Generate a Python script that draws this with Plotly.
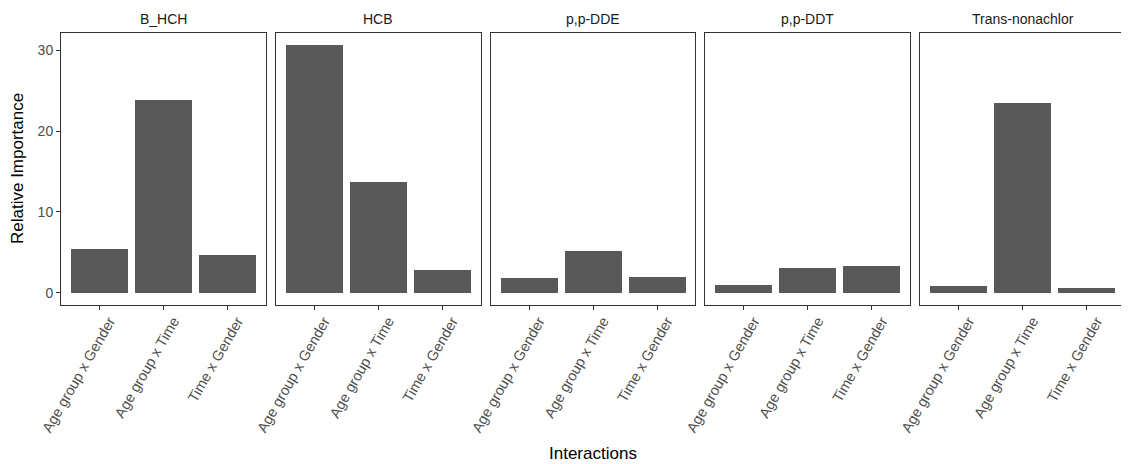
import plotly.graph_objects as go
from plotly.subplots import make_subplots

panels = ["B_HCH", "HCB", "p,p-DDE", "p,p-DDT", "Trans-nonachlor"]
interactions = ["Age group x Gender", "Age group x Time", "Time x Gender"]
b_hch = [5.4, 23.9, 4.6]
hcb = [30.6, 13.7, 2.8]
ppdde = [1.8, 5.2, 1.95]
ppddt = [1.0, 3.1, 3.3]
trans_nonachlor = [0.8, 23.5, 0.6]
values = [b_hch, hcb, ppdde, ppddt, trans_nonachlor]
y_ticks = [0, 10, 20, 30]

# page body has an 8px margin, so the figure is sized/offset to compensate
W, H = 1121, 456
ml, mr, mt, mb = 53, 4, 25, 159
fig = make_subplots(rows=1, cols=5, subplot_titles=panels,
                    horizontal_spacing=10 / (W - ml - mr), shared_yaxes=True)

for i, vals in enumerate(values):
    fig.add_trace(go.Bar(x=interactions, y=vals, width=0.9,
                         marker=dict(color="#595959", line=dict(width=0)),
                         showlegend=False), row=1, col=i + 1)
    fig.update_xaxes(row=1, col=i + 1, range=[-0.6, 2.6], showline=True, mirror=True,
                     linecolor="#333333", linewidth=1, ticks="outside", ticklen=4,
                     tickcolor="#333333", tickangle=-60, showgrid=False, zeroline=False,
                     automargin=False, ticklabelshift=10, ticklabelstandoff=-3,
                     tickfont=dict(family="Liberation Sans, Arial", size=14.5, color="#4D4D4D"))
    fig.update_yaxes(row=1, col=i + 1, range=[-1.53, 32.13], showline=True, mirror=True,
                     linecolor="#333333", linewidth=1, showgrid=False, zeroline=False,
                     tickvals=y_ticks, automargin=False,
                     ticks="outside" if i == 0 else "", ticklen=4, tickcolor="#333333",
                     showticklabels=(i == 0),
                     tickfont=dict(family="Liberation Sans, Arial", size=14, color="#4D4D4D"))

for ann in fig.layout.annotations:
    ann.font = dict(family="Liberation Sans, Arial", size=14, color="#1A1A1A")
    ann.yshift = 4

fig.add_annotation(text="Interactions", xref="paper", yref="paper", x=0.5, y=0,
                   yshift=-148, yanchor="middle", showarrow=False,
                   font=dict(family="Liberation Sans, Arial", size=17, color="black"))
fig.add_annotation(text="Relative Importance", xref="paper", yref="paper", x=0, y=0.5,
                   xshift=-44, textangle=-90, xanchor="center", showarrow=False,
                   font=dict(family="Liberation Sans, Arial", size=17, color="black"))

fig.update_layout(width=W, height=H, margin=dict(l=ml, r=mr, t=mt, b=mb, autoexpand=False),
                  plot_bgcolor="white", paper_bgcolor="white", bargap=0)
fig.write_html("out.html")
